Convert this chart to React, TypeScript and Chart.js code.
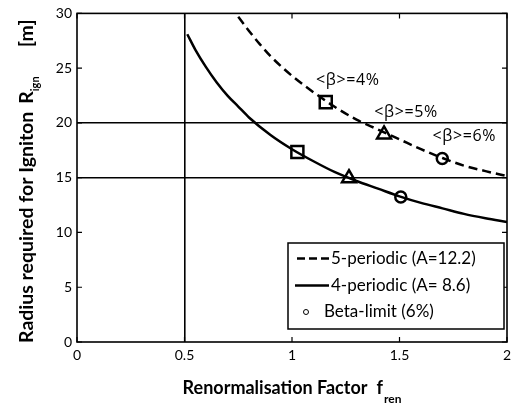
import React, { useEffect, useRef } from "react";
import { Chart, registerables } from "chart.js";

Chart.register(...registerables);

// ---- data ----
const xTickStep = 0.5;
const yTickStep = 5;
const xMin = 0;
const xMax = 2;
const yMin = 0;
const yMax = 30;
const refLinesX = [0.5];
const refLinesY = [15, 20];

// 5-periodic (A=12.2), dashed
const fren5 = [0.75, 0.8, 0.85, 0.9, 1.0, 1.1, 1.2, 1.3, 1.4, 1.5, 1.6, 1.7, 1.8, 1.9, 2.0];
const rign5 = [29.7, 28.4, 27.2, 26.1, 24.3, 22.8, 21.45, 20.3, 19.4, 18.5, 17.6, 16.8, 16.1, 15.6, 15.15];

// 4-periodic (A=8.6), solid
const fren4 = [0.513, 0.55, 0.6, 0.65, 0.7, 0.75, 0.8, 0.9, 1.0, 1.1, 1.2, 1.3, 1.4, 1.5, 1.6, 1.7, 1.8, 1.9, 2.0];
const rign4 = [28.1, 26.7, 25.1, 23.7, 22.5, 21.5, 20.5, 18.9, 17.6, 16.5, 15.5, 14.7, 14.0, 13.3, 12.7, 12.2, 11.7, 11.3, 10.95];

// beta markers (4%, 5%, 6%)
const betaLabels = ["<β>=4%", "<β>=5%", "<β>=6%"];
const beta5X = [1.157, 1.428, 1.699];
const beta5Y = [21.9, 18.95, 16.75];
const beta4X = [1.025, 1.265, 1.506];
const beta4Y = [17.35, 14.95, 13.24];
const markerStyles = ["rect", "triangle", "circle"];

const legendLabels = ["5-periodic (A=12.2)", "4-periodic (A= 8.6)", "Beta-limit (6%)"];
const xTitle = "Renormalisation Factor";
const xTitleSym = "f";
const xTitleSub = "ren";
const yTitle = "Radius required for Igniton";
const yTitleSym = "R";
const yTitleSub = "ign";
const yTitleUnit = "[m]";

const FONT = "Lato, 'Open Sans', sans-serif";
const ANN_FONT = "'Open Sans', sans-serif";

function toXY(xs: number[], ys: number[]) {
  return xs.map((x, i) => ({ x, y: ys[i] }));
}

const decorPlugin = {
  id: "decor",
  afterDatasetsDraw(chart: any) {
    const { ctx, chartArea: ca, scales } = chart;
    const xs = scales.x;
    const ys = scales.y;
    ctx.save();
    ctx.strokeStyle = "#000";
    ctx.lineWidth = 1.6;
    ctx.strokeRect(ca.left, ca.top, ca.right - ca.left, ca.bottom - ca.top);
    const tl = 5;
    ctx.lineWidth = 1.2;
    ctx.beginPath();
    xs.ticks.forEach((t: any) => {
      const px = xs.getPixelForValue(t.value);
      ctx.moveTo(px, ca.bottom);
      ctx.lineTo(px, ca.bottom - tl);
      ctx.moveTo(px, ca.top);
      ctx.lineTo(px, ca.top + tl);
    });
    ys.ticks.forEach((t: any) => {
      const py = ys.getPixelForValue(t.value);
      ctx.moveTo(ca.left, py);
      ctx.lineTo(ca.left + tl, py);
      ctx.moveTo(ca.right, py);
      ctx.lineTo(ca.right - tl, py);
    });
    ctx.stroke();

    // beta annotations above the 5-periodic markers
    ctx.fillStyle = "#000";
    ctx.font = `16px ${ANN_FONT}`;
    (ctx as any).letterSpacing = "0.6px";
    ctx.textAlign = "center";
    ctx.textBaseline = "middle";
    betaLabels.forEach((lab, i) => {
      const px = xs.getPixelForValue(beta5X[i]);
      const py = ys.getPixelForValue(beta5Y[i]);
      ctx.fillText(lab, px + 22, py - 22);
    });
    (ctx as any).letterSpacing = "0px";
    ctx.restore();
  },
  afterDraw(chart: any) {
    const { ctx, chartArea: ca } = chart;
    ctx.save();
    // legend
    const bw = 216;
    const bh = 86;
    const bx = ca.right - 219;
    const by = ca.bottom - 99;
    ctx.fillStyle = "#fff";
    ctx.fillRect(bx, by, bw, bh);
    ctx.strokeStyle = "#000";
    ctx.lineWidth = 1.5;
    ctx.strokeRect(bx, by, bw, bh);
    const rowY = [by + 15.5, by + 42.5, by + 69];
    ctx.lineWidth = 2.5;
    ctx.setLineDash([8, 4]);
    ctx.beginPath();
    ctx.moveTo(bx + 9, rowY[0]);
    ctx.lineTo(bx + 41, rowY[0]);
    ctx.stroke();
    ctx.setLineDash([]);
    ctx.beginPath();
    ctx.moveTo(bx + 7, rowY[1]);
    ctx.lineTo(bx + 41, rowY[1]);
    ctx.stroke();
    ctx.lineWidth = 1;
    ctx.beginPath();
    ctx.arc(bx + 18, rowY[2], 2.5, 0, Math.PI * 2);
    ctx.stroke();
    ctx.fillStyle = "#000";
    ctx.font = `17px ${FONT}`;
    ctx.textAlign = "left";
    ctx.textBaseline = "middle";
    ctx.fillText(legendLabels[0], bx + 43, rowY[0]);
    ctx.fillText(legendLabels[1], bx + 43, rowY[1]);
    ctx.fillText(legendLabels[2], bx + 36, rowY[2]);

    // x title
    ctx.textBaseline = "alphabetic";
    ctx.font = `bold 18px ${FONT}`;
    const w1 = ctx.measureText(xTitle).width;
    const gap = 9;
    const wf = ctx.measureText(xTitleSym).width;
    ctx.font = `bold 12px ${FONT}`;
    const ws = ctx.measureText(xTitleSub).width;
    const total = w1 + gap + wf + 1 + ws;
    const x0 = (ca.left + ca.right) / 2 - total / 2;
    const base = 394;
    ctx.font = `bold 18px ${FONT}`;
    ctx.fillText(xTitle, x0, base);
    ctx.fillText(xTitleSym, x0 + w1 + gap, base);
    ctx.font = `bold 12px ${FONT}`;
    ctx.fillText(xTitleSub, x0 + w1 + gap + wf + 1, base + 9);

    // y title (rotated, reading bottom to top)
    ctx.translate(33, 0);
    ctx.rotate(-Math.PI / 2);
    const yFont = `bold 19.5px ${FONT}`;
    ctx.font = yFont;
    const yw1 = ctx.measureText(yTitle).width;
    const ywR = ctx.measureText(yTitleSym).width;
    ctx.font = `bold 11px ${FONT}`;
    const ywS = ctx.measureText(yTitleSub).width;
    const start = -343;
    ctx.font = yFont;
    ctx.fillText(yTitle, start, 0);
    const rPos = Math.max(start + yw1 + 8, start + 235);
    ctx.fillText(yTitleSym, rPos, 0);
    ctx.font = `bold 11px ${FONT}`;
    ctx.fillText(yTitleSub, rPos + ywR, 6);
    const uPos = Math.max(rPos + ywR + ywS + 8, start + 296);
    ctx.font = yFont;
    ctx.fillText(yTitleUnit, uPos, 0);
    ctx.restore();
  },
};

export default function App() {
  const ref = useRef<HTMLCanvasElement | null>(null);
  useEffect(() => {
    if (!ref.current) return;
    const chart = new Chart(ref.current, {
      type: "line",
      data: {
        datasets: [
          {
            type: "scatter",
            label: "markers5",
            data: toXY(beta5X, beta5Y) as any,
            pointStyle: markerStyles as any,
            pointRadius: [8.5, 8, 5.5],
            borderColor: "#000",
            backgroundColor: "rgba(0,0,0,0)",
            pointBorderWidth: 2.5,
            showLine: false,
          } as any,
          {
            type: "scatter",
            label: "markers4",
            data: toXY(beta4X, beta4Y) as any,
            pointStyle: markerStyles as any,
            pointRadius: [8.5, 8, 5.5],
            borderColor: "#000",
            backgroundColor: "rgba(0,0,0,0)",
            pointBorderWidth: 2.5,
            showLine: false,
          } as any,
          {
            label: legendLabels[0],
            data: toXY(fren5, rign5) as any,
            borderColor: "#000",
            borderWidth: 2.5,
            borderDash: [9, 5],
            pointRadius: 0,
            fill: false,
            cubicInterpolationMode: "monotone",
          },
          {
            label: legendLabels[1],
            data: toXY(fren4, rign4) as any,
            borderColor: "#000",
            borderWidth: 2.5,
            pointRadius: 0,
            fill: false,
            cubicInterpolationMode: "monotone",
          },
        ],
      },
      options: {
        responsive: false,
        animation: false,
        events: [],
        layout: { padding: { top: 13, right: 12, left: 0, bottom: 0 } },
        plugins: {
          legend: { display: false },
          tooltip: { enabled: false },
          title: { display: false },
        },
        scales: {
          x: {
            type: "linear",
            min: xMin,
            max: xMax,
            ticks: {
              stepSize: xTickStep,
              color: "#000",
              font: { family: FONT, size: 14 },
              padding: 5,
              maxRotation: 0,
              callback: (v: any) => String(Number(v)),
            },
            grid: {
              drawTicks: false,
              lineWidth: 1.6,
              color: (c: any) =>
                c.tick && refLinesX.includes(c.tick.value) ? "#000" : "rgba(0,0,0,0)",
            },
            border: { display: false },
            afterFit: (s: any) => {
              s.height = 63;
            },
          },
          y: {
            type: "linear",
            min: yMin,
            max: yMax,
            ticks: {
              stepSize: yTickStep,
              color: "#000",
              font: { family: FONT, size: 14 },
              padding: 5,
              callback: (v: any) => String(Number(v)),
            },
            grid: {
              drawTicks: false,
              lineWidth: 1.6,
              color: (c: any) =>
                c.tick && refLinesY.includes(c.tick.value) ? "#000" : "rgba(0,0,0,0)",
            },
            border: { display: false },
            afterFit: (s: any) => {
              s.width = 77;
            },
          },
        },
      },
      plugins: [decorPlugin],
    });
    return () => chart.destroy();
  }, []);
  return (
    <div style={{ position: "fixed", left: 0, top: 0, width: 519, height: 405, background: "#fff" }}>
      <canvas ref={ref} width={519} height={405} style={{ width: 519, height: 405, display: "block" }} />
    </div>
  );
}
